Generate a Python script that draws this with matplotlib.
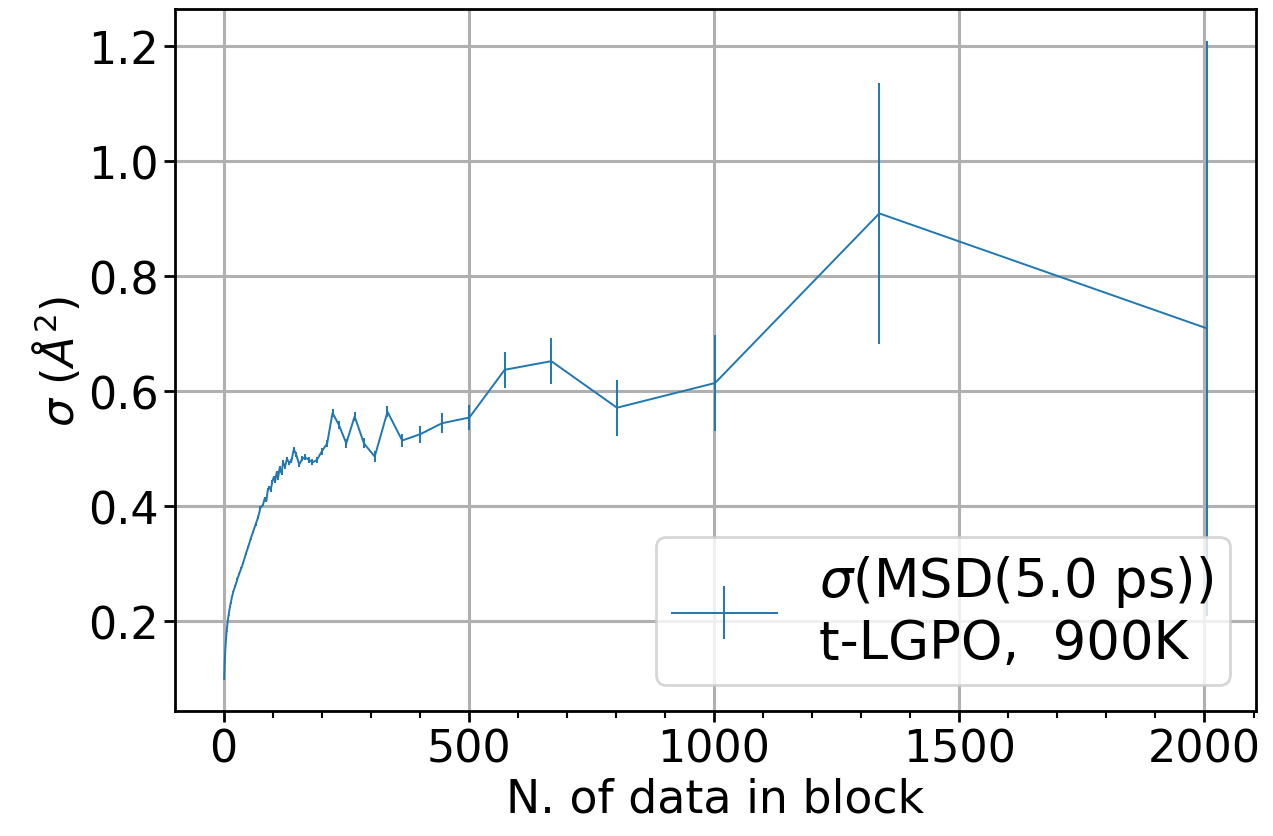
import matplotlib
matplotlib.use("Agg")
import matplotlib.pyplot as plt
from matplotlib.ticker import MultipleLocator

# block size (number of data in block) and the std. dev. of MSD(5 ps) with its error
block_size = [1, 2, 3, 4, 5, 6, 8, 10, 12, 14, 17, 20, 24, 28, 32, 36, 40, 45, 50,
              55, 60, 65, 70, 75, 80, 84, 87, 90, 93, 96, 99, 102, 105, 108, 111,
              114, 118, 121, 125, 129, 134, 138, 143, 148, 154, 160, 166, 174, 181,
              190, 200, 211, 222, 235, 250, 267, 286, 308, 334, 364, 401, 445, 501,
              573, 668, 802, 1002, 1337, 2005]
sigma = [0.099, 0.125, 0.145, 0.160, 0.172, 0.182, 0.198, 0.210, 0.221, 0.230,
         0.242, 0.252, 0.262, 0.273, 0.283, 0.292, 0.302, 0.316, 0.329, 0.343,
         0.355, 0.368, 0.380, 0.397, 0.402, 0.414, 0.409, 0.428, 0.433, 0.428,
         0.442, 0.450, 0.443, 0.458, 0.449, 0.466, 0.457, 0.476, 0.468, 0.482,
         0.475, 0.478, 0.499, 0.489, 0.472, 0.482, 0.485, 0.480, 0.476,
         0.480, 0.495, 0.509, 0.562, 0.541, 0.509, 0.556, 0.509, 0.486, 0.564,
         0.514, 0.525, 0.544, 0.554, 0.637, 0.652, 0.571, 0.614, 0.909, 0.709]
sigma_err = [0.0001, 0.0002, 0.0002, 0.0003, 0.0003, 0.0004, 0.0005, 0.0005, 0.0006,
             0.0007, 0.0008, 0.0009, 0.001, 0.0011, 0.0012, 0.0013, 0.0014, 0.0015,
             0.0016, 0.0018, 0.0019, 0.002, 0.0021, 0.0022, 0.0023, 0.0024, 0.0025,
             0.0026, 0.0027, 0.0028, 0.0029, 0.003, 0.003, 0.0031, 0.0032, 0.0033,
             0.0034, 0.0035, 0.0036, 0.0037, 0.0038, 0.004, 0.0041, 0.0042, 0.0044,
             0.0045, 0.0047, 0.0049, 0.0051, 0.0053, 0.0056, 0.006, 0.0065, 0.007,
             0.0075, 0.008, 0.0085, 0.009, 0.010, 0.011, 0.0145, 0.017, 0.021,
             0.031, 0.040, 0.049, 0.083, 0.227, 0.500]

plt.rcParams['font.size'] = 32

fig = plt.figure(figsize=(12.73, 8.37), dpi=100)
ax = fig.add_axes([0.1375, 0.1493, 0.8492, 0.8387])

ax.errorbar(block_size, sigma, yerr=sigma_err, color='#1f77b4', lw=1.4,
            elinewidth=1.4, label='$\\sigma$(MSD(5.0 ps))\nt-LGPO,  900K')

ax.set_xlabel('N. of data in block', fontsize=33, labelpad=5)
ax.set_ylabel(r'$\sigma\ (\AA^2)$')
ax.xaxis.set_minor_locator(MultipleLocator(100))
ax.grid(True, lw=2.2, color='#b0b0b0')
ax.tick_params(which='major', length=8, width=2)
ax.tick_params(which='minor', length=5, width=1.5)
for s in ax.spines.values():
    s.set_linewidth(2)

leg = ax.legend(loc='lower right', fontsize=38, borderpad=0.3,
                labelspacing=0.05)
leg.get_frame().set_linewidth(2)

fig.savefig('out.png', dpi=100)
